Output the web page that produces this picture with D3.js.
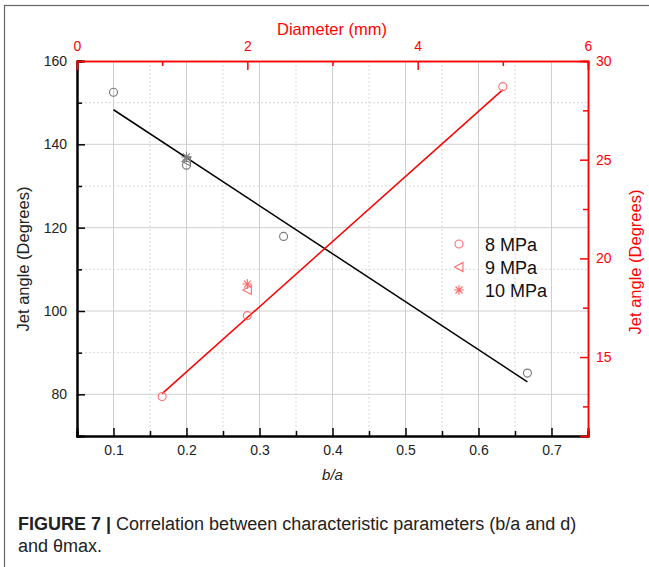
<!DOCTYPE html>
<html>
<head>
<meta charset="utf-8">
<script src="https://cdn.jsdelivr.net/npm/d3@7"></script>
<style>
  body { margin: 0; background: #fff; }
  svg { display: block; font-family: "Liberation Sans", Arial, sans-serif; }
</style>
</head>
<body>
<svg id="chart" width="649" height="567"></svg>
<script>
// b/a vs jet angle (left axis, black)
const ratio8 = [0.1, 0.2, 0.333, 0.667],
    angle8 = [152.5, 135, 117.9, 85.1];
const ratio9 = [0.2], angle9 = [135.9];
const ratio10 = [0.2], angle10 = [137.0];
const ratioFitX = [0.1, 0.667], ratioFitY = [148.3, 83.0];

// diameter vs jet angle (right axis, red)
const diam8 = [1, 2, 5], dAngle8 = [13.0, 17.1, 28.7];
const diam9 = [2], dAngle9 = [18.4];
const diam10 = [2], dAngle10 = [18.7];
const diamFitX = [1, 5], diamFitY = [13.15, 28.55];

const legendLabels = ['8 MPa', '9 MPa', '10 MPa'];
const xTicks = [0.1, 0.2, 0.3, 0.4, 0.5, 0.6, 0.7],
    xMinor = [0.15, 0.25, 0.35, 0.45, 0.55, 0.65],
    yTicks = [80, 100, 120, 140, 160],
    yMinor = [90, 110, 130, 150],
    dTicks = [0, 2, 4, 6], dMinor = [1, 3, 5],
    rTicks = [15, 20, 25, 30], rMinor = [12.5, 17.5, 22.5, 27.5];

(function () {
    const svg = d3.select('#chart'),
        left = 77, right = 588, top = 61, bottom = 436,
        red = '#ff0000', pink = '#ff6b6b', gray = '#777';

    const x = d3.scaleLinear().domain([0.05, 0.75]).range([left, right]),
        xd = d3.scaleLinear().domain([0, 6]).range([left, right]),
        y = d3.scaleLinear().domain([70, 160]).range([bottom, top]),
        yr = d3.scaleLinear().domain([11, 30]).range([bottom, top]);

    // frame round the figure
    svg.append('rect').attr('x', 4.5).attr('y', 5.5).attr('width', 700).attr('height', 700)
        .attr('fill', 'none').attr('stroke', '#666').attr('stroke-width', 1.2);

    // grid
    const grid = svg.append('g');
    grid.selectAll('.vmaj').data(xTicks).join('line')
        .attr('x1', d => x(d)).attr('x2', d => x(d)).attr('y1', top).attr('y2', bottom)
        .attr('stroke', '#cfcfcf').attr('stroke-width', 1);
    grid.selectAll('.vmin').data(xMinor).join('line')
        .attr('x1', d => x(d)).attr('x2', d => x(d)).attr('y1', top).attr('y2', bottom)
        .attr('stroke', '#d8d8d8').attr('stroke-dasharray', '2,2');
    grid.selectAll('.hmaj').data(yTicks.slice(0, -1)).join('line')
        .attr('y1', d => y(d)).attr('y2', d => y(d)).attr('x1', left).attr('x2', right)
        .attr('stroke', '#cfcfcf').attr('stroke-width', 1);
    grid.selectAll('.hmin').data(yMinor).join('line')
        .attr('y1', d => y(d)).attr('y2', d => y(d)).attr('x1', left).attr('x2', right)
        .attr('stroke', '#d8d8d8').attr('stroke-dasharray', '2,2');

    // axes
    function axis(gen, tx, ty, color, width) {
        const g = svg.append('g').attr('transform', `translate(${tx},${ty})`).call(gen);
        g.select('.domain').attr('stroke', color).attr('stroke-width', width);
        g.selectAll('.tick line').attr('stroke', color).attr('stroke-width', 1.5);
        g.selectAll('.tick text').attr('fill', color === '#000' ? '#222' : color)
            .attr('font-family', null).style('font-size', '14px');
        return g;
    }
    axis(d3.axisBottom(x).tickValues(xTicks).tickSize(-8).tickPadding(9).tickFormat(d3.format('.1f')),
        0, bottom, '#000', 2);
    axis(d3.axisBottom(x).tickValues(xMinor).tickSize(-5).tickFormat(''), 0, bottom, '#000', 2);
    axis(d3.axisLeft(y).tickValues(yTicks).tickSize(-8).tickPadding(10), left, 0, '#000', 2);
    axis(d3.axisLeft(y).tickValues(yMinor).tickSize(-5).tickFormat(''), left, 0, '#000', 2);
    axis(d3.axisTop(xd).tickValues(dTicks).tickSize(-9).tickPadding(10).tickFormat(d3.format('d')),
        0, top, red, 1.5);
    axis(d3.axisTop(xd).tickValues(dMinor).tickSize(-5).tickFormat(''), 0, top, red, 1.5);
    axis(d3.axisRight(yr).tickValues(rTicks).tickSize(-8).tickPadding(8), right, 0, red, 1.5);
    axis(d3.axisRight(yr).tickValues(rMinor).tickSize(-5).tickFormat(''), right, 0, red, 1.5);

    // axis titles
    svg.append('text').attr('x', (left + right) / 2).attr('y', 480).attr('text-anchor', 'middle')
        .style('font-size', '15px').style('font-style', 'italic').attr('fill', '#222').text('b/a');
    svg.append('text').attr('x', 332).attr('y', 35).attr('text-anchor', 'middle')
        .style('font-size', '16.5px').attr('fill', red).text('Diameter (mm)');
    svg.append('text').attr('transform', 'translate(29,259) rotate(-90)').attr('text-anchor', 'middle')
        .style('font-size', '16.5px').attr('fill', '#222').text('Jet angle (Degrees)');
    svg.append('text').attr('transform', 'translate(641,262) rotate(-90)').attr('text-anchor', 'middle')
        .style('font-size', '16.5px').attr('fill', red).text('Jet angle (Degrees)');

    // fit lines
    const lineBlack = d3.line().x(d => x(d[0])).y(d => y(d[1])),
        lineRed = d3.line().x(d => xd(d[0])).y(d => yr(d[1]));
    svg.append('path').attr('d', lineBlack(d3.zip(ratioFitX, ratioFitY)))
        .attr('stroke', '#000').attr('stroke-width', 1.5).attr('fill', 'none');
    svg.append('path').attr('d', lineRed(d3.zip(diamFitX, diamFitY)))
        .attr('stroke', red).attr('stroke-width', 1.5).attr('fill', 'none');

    // marker shapes
    const shapes = {
        circle: 'M4,0A4,4 0 1,1 -4,0A4,4 0 1,1 4,0Z',
        triangle: 'M-4.5,0L4,-4.5L4,4.5Z',
        star: 'M0,-5V5M-5,0H5M-3.5,-3.5L3.5,3.5M-3.5,3.5L3.5,-3.5'
    };
    function markers(xs, ys, sx, sy, shape, color) {
        svg.append('g').selectAll('path').data(d3.zip(xs, ys)).join('path')
            .attr('transform', d => `translate(${sx(d[0])},${sy(d[1])})`)
            .attr('d', shapes[shape]).attr('fill', 'none')
            .attr('stroke', color).attr('stroke-width', 1.1);
    }
    markers(ratio8, angle8, x, y, 'circle', gray);
    markers(ratio9, angle9, x, y, 'triangle', gray);
    markers(ratio10, angle10, x, y, 'star', gray);
    markers(diam8, dAngle8, xd, yr, 'circle', pink);
    markers(diam9, dAngle9, xd, yr, 'triangle', pink);
    markers(diam10, dAngle10, xd, yr, 'star', pink);

    // legend
    const lg = svg.append('g').attr('transform', 'translate(459,244)'),
        shapeKeys = ['circle', 'triangle', 'star'];
    legendLabels.forEach((t, i) => {
        lg.append('path').attr('transform', `translate(0,${i * 23})`).attr('d', shapes[shapeKeys[i]])
            .attr('fill', 'none').attr('stroke', pink).attr('stroke-width', 1.1);
        lg.append('text').attr('x', 26).attr('y', i * 23 + 6.5).style('font-size', '18px')
            .attr('fill', '#111').text(t);
    });

    // caption
    const cap = svg.append('text').attr('x', 18).attr('y', 530).style('font-size', '18px').attr('fill', '#222');
    cap.append('tspan').style('font-weight', 'bold').text('FIGURE 7');
    cap.append('tspan').style('font-weight', 'bold').text(' | ');
    cap.append('tspan').text('Correlation between characteristic parameters (b/a and d)');
    svg.append('text').attr('x', 18).attr('y', 552).style('font-size', '18px').attr('fill', '#222')
        .text('and θmax.');
}());
</script>
</body>
</html>
